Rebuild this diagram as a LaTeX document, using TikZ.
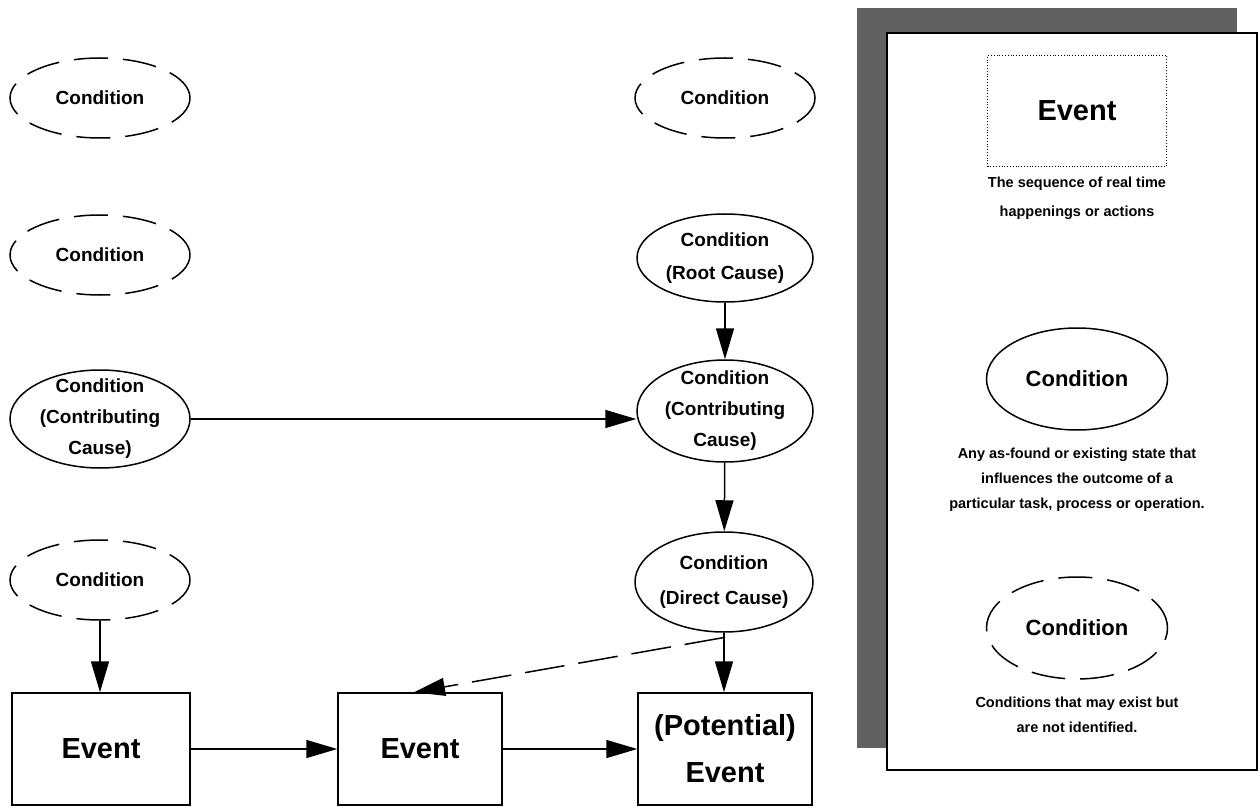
\documentclass[tikz,border=0pt]{standalone}
\usepackage{fontspec}
\setmainfont{Liberation Sans}
\usetikzlibrary{shapes.geometric, arrows.meta, calc}
\tikzstyle{arrow} = [line width=1.5pt, -{Triangle[length=31pt,width=18pt]}]

\begin{document}
\begin{tikzpicture}[x=1pt, y=-1pt,
    cond/.style={ellipse, draw, line width=1.5pt, minimum width=180pt, minimum height=80pt,
      inner xsep=-30pt, inner ysep=-30pt, align=center,
      font=\fontsize{19}{31}\selectfont\bfseries},
    maybe/.style={cond, dash pattern=on 34pt off 15pt},
    eventbox/.style={draw, line width=1.5pt, minimum width=174pt, minimum height=112pt,
      align=center, font=\fontsize{29}{47}\selectfont\bfseries},
    note/.style={align=center, font=\fontsize{14.5}{25}\selectfont\bfseries},
  ]
  \useasboundingbox (0,0) rectangle (1260,810);

  % left column
  \node[maybe] (c1) at (100,98) {Condition};
  \node[maybe] (c2) at (100,255) {Condition};
  \node[cond, minimum height=98pt] (cc1) at (100,419) {Condition\\(Contributing\\Cause)};
  \node[maybe] (c3) at (100,580) {Condition};

  % right column
  \node[maybe] (c4) at (725,98) {Condition};
  \node[cond, minimum width=176pt, minimum height=88pt, font=\fontsize{19}{33}\selectfont\bfseries]
    (rc) at (725,258) {Condition\\(Root Cause)};
  \node[cond, minimum width=176pt, minimum height=102pt] (cc2) at (725,411) {Condition\\(Contributing\\Cause)};
  \node[cond, minimum width=178pt, minimum height=100pt, font=\fontsize{19}{35}\selectfont\bfseries]
    (dc) at (724,582) {Condition\\(Direct Cause)};

  % events
  \node[eventbox, minimum width=178pt] (ev1) at (101,749) {Event};
  \node[eventbox, minimum width=164pt] (ev2) at (420,749) {Event};
  \node[eventbox] (pe) at (725,749) {(Potential)\\Event};

  % connectors
  \draw[arrow] (c3.south) -- (c3.south |- ev1.north);
  \draw[arrow] (cc1.east) -- (cc1.east -| cc2.west);
  \draw[arrow] (rc) -- (cc2);
  \draw[arrow] (cc2) -- (dc);
  \draw[arrow] (dc.south) -- coordinate[pos=0.08] (split) (dc.south |- pe.north);
  \draw[arrow, dash pattern=on 40pt off 14pt] (split) -- ([xshift=-6pt]ev2.north);
  \draw[arrow] (ev1) -- (ev2);
  \draw[arrow] (ev2) -- (pe);

  % legend
  \fill[black!62] (857,8) rectangle (1237,748);
  \draw[line width=1.5pt, fill=white] (887,33) rectangle (1257,770);
  \node[draw, dotted, thick, minimum width=179pt, minimum height=111pt,
    font=\fontsize{29}{35}\selectfont\bfseries] (lev) at (1077,111) {Event};
  \node[note, font=\fontsize{14.5}{29}\selectfont\bfseries] (levtxt) at (1077,198)
    {The sequence of real time\\happenings or actions};
  \node[cond, minimum width=181pt, minimum height=102pt, font=\fontsize{22}{26}\selectfont\bfseries]
    (lcond) at (1077,379) {Condition};
  \node[note] (lcondtxt) at (1077,480)
    {Any as-found or existing state that\\influences the outcome of a\\particular task, process or operation.};
  \node[maybe, minimum width=181pt, minimum height=102pt, font=\fontsize{22}{26}\selectfont\bfseries]
    (lmaybe) at (1077,628) {Condition};
  \node[note] (lmaybetxt) at (1077,715) {Conditions that may exist but\\are not identified.};
\end{tikzpicture}
\end{document}
